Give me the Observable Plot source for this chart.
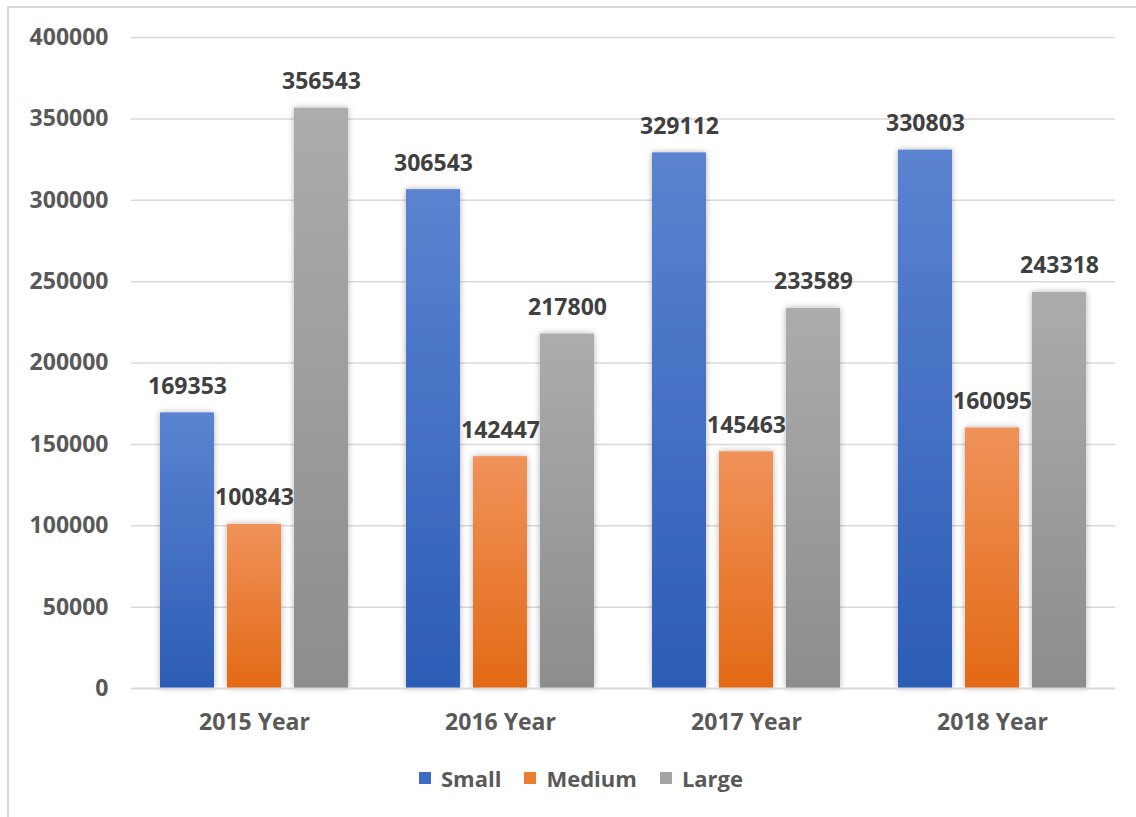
<!DOCTYPE html>
<html><head><meta charset="utf-8">
<script src="https://cdn.jsdelivr.net/npm/d3@7"></script>
<script src="https://cdn.jsdelivr.net/npm/@observablehq/plot@0.6"></script>
<style>
html,body{margin:0;padding:0;background:#fff;overflow:hidden;width:1136px;height:817px}
#frame{position:absolute;left:7px;top:6px;width:1200px;height:900px;border:2px solid #d9d9d9;box-sizing:border-box}
#chart{position:absolute;left:0;top:0}
#legend{position:absolute;top:765px;left:419px;height:26px;display:flex;align-items:center;font-family:"Open Sans",sans-serif;font-weight:700;font-size:22px;color:#595959}
.item{display:flex;align-items:center;margin-right:23px}
.sw{width:12px;height:12px;margin-right:10px}
</style></head>
<body>
<div id="frame"></div>
<div id="chart"></div>
<div id="legend"></div>
<script>
const years = ["2015 Year", "2016 Year", "2017 Year", "2018 Year"];
const series = ["Small", "Medium", "Large"];
const small = [169353, 306543, 329112, 330803];
const medium = [100843, 142447, 145463, 160095];
const large = [356543, 217800, 233589, 243318];
const yTicks = [0, 50000, 100000, 150000, 200000, 250000, 300000, 350000, 400000];
const legendColors = ["#3d6cc4", "#ed7d31", "#a5a5a5"];
const gradIds = ["gSmall", "gMedium", "gLarge"];
const gradStops = [["#5b83d1", "#2c5db6"], ["#f0925a", "#e36915"], ["#acacac", "#8d8d8d"]];

const valuesBySeries = [small, medium, large];
const data = [];
years.forEach((yr, i) => series.forEach((s, j) => data.push({year: yr, series: s, value: valuesBySeries[j][i]})));

const plot = Plot.plot({
  width: 1136,
  height: 745,
  marginLeft: 130,
  marginRight: 20,
  marginTop: 37,
  marginBottom: 57,
  style: {fontFamily: "'Open Sans', sans-serif", fontWeight: 700, fontSize: "23px", color: "#595959", background: "transparent"},
  fx: {domain: years, padding: 0, label: null, tickSize: 0, tickPadding: 25},
  x: {domain: series, axis: null, paddingInner: 0.19, paddingOuter: 0.41},
  y: {domain: [0, 400000], ticks: yTicks, tickSize: 0, tickPadding: 23, label: null, tickFormat: d => String(d)},
  color: {domain: series, range: gradIds.map(id => `url(#${id})`)},
  marks: [
    Plot.ruleY(yTicks.slice(1), {stroke: "#d9d9d9", strokeWidth: 1.5}),
    Plot.barY(data, {fx: "year", x: "series", y: "value", fill: "series"}),
    Plot.ruleY([0], {stroke: "#d9d9d9", strokeWidth: 2}),
    Plot.text(data, {fx: "year", x: "series", y: "value", text: d => String(d.value), lineAnchor: "bottom", dy: -19, fill: "#404040"})
  ]
});

const svg = d3.select(plot);
const defs = svg.insert("defs", ":first-child");
gradIds.forEach((id, k) => {
  const g = defs.append("linearGradient").attr("id", id).attr("x1", 0).attr("y1", 0).attr("x2", 0).attr("y2", 1);
  g.append("stop").attr("offset", "0%").attr("stop-color", gradStops[k][0]);
  g.append("stop").attr("offset", "100%").attr("stop-color", gradStops[k][1]);
});
const f = defs.append("filter").attr("id", "shadow").attr("x", "-30%").attr("y", "-10%").attr("width", "160%").attr("height", "120%");
f.append("feDropShadow").attr("dx", 0).attr("dy", 0).attr("stdDeviation", 3).attr("flood-color", "#000").attr("flood-opacity", 0.3);
svg.selectAll("g[aria-label='bar'] rect").attr("filter", "url(#shadow)");

document.getElementById("chart").appendChild(plot);

const legend = document.getElementById("legend");
series.forEach((s, k) => {
  const item = document.createElement("div");
  item.className = "item";
  const sw = document.createElement("div");
  sw.className = "sw";
  sw.style.background = legendColors[k];
  const t = document.createElement("span");
  t.textContent = s;
  item.appendChild(sw);
  item.appendChild(t);
  legend.appendChild(item);
});
</script>
</body></html>
